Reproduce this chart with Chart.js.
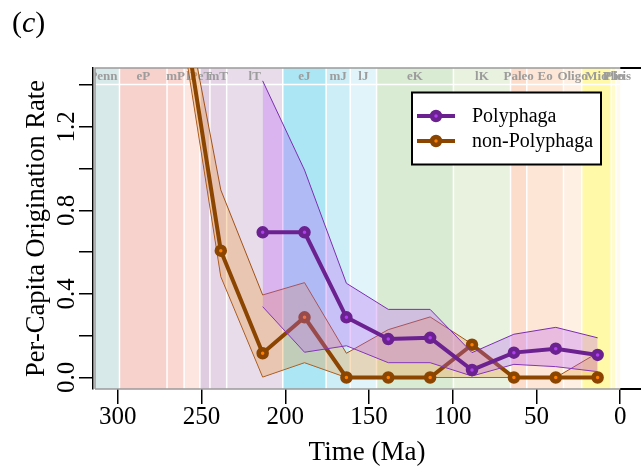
<!DOCTYPE html>
<html lang="en">
<head>
<meta charset="UTF-8">
<title>Per-Capita Origination Rate</title>
<style>
  body { margin: 0; background: #fff; }
  .wrap { position: relative; width: 641px; height: 470px; }
  .panel {
    position: absolute; left: 12px; top: 5px;
    font-family: 'Liberation Serif', serif; font-size: 30px; color: #000;
  }
  canvas { position: absolute; left: 0; top: 0; }
</style>
<script src="https://cdn.jsdelivr.net/npm/chart.js"></script>
</head>
<body>
<div class="wrap">
  <canvas id="chart" width="641" height="470"></canvas>
  <div class="panel">(<i>c</i>)</div>
</div>
<script>
// geological time bins (Ma)
const bandLabels = ['Penn', 'eP', 'mP', 'lP', 'eT', 'mT', 'lT', 'eJ', 'mJ', 'lJ', 'eK', 'lK', 'Paleo', 'Eo', 'Oligo', 'Mio', 'Plio', 'Pleis'];
const bandStart = [318.1, 299, 270.6, 260.4, 251, 245, 235, 201.5, 175.6, 161.2, 145.5, 99.6, 65.5, 55.8, 33.9, 23.03, 5.33, 2.59];
const bandEnd = [299, 270.6, 260.4, 251, 245, 235, 201.5, 175.6, 161.2, 145.5, 99.6, 65.5, 55.8, 33.9, 23.03, 5.33, 2.59, 0];
const bandColors = ['#d8e9e9', '#f7d1cc', '#fbd7d1', '#fde5e0', '#dfcce0', '#e4d4e6', '#e8dcea', '#ace6f4', '#cdeef6', '#e0f4fa',
                    '#daebd4', '#e9f2df', '#fcdccb', '#fde6d5', '#fef0e2', '#fff9a8', '#fffbcc', '#fffaee'];

// Polyphaga
const polyAge = [213.5, 188.5, 163.5, 138.5, 113.5, 88.5, 63.5, 38.5, 13.5];
const polyRate = [0.695, 0.695, 0.288, 0.184, 0.19, 0.036, 0.119, 0.138, 0.108];
const polyUpper = [1.42, 0.993, 0.451, 0.326, 0.326, 0.119, 0.207, 0.24, 0.19];
const polyLower = [0.339, 0.121, 0.152, 0.071, 0.071, 0.007, 0.063, 0.052, 0.028];

// non-Polyphaga
const nonAge = [263.5, 238.5, 213.5, 188.5, 163.5, 138.5, 113.5, 88.5, 63.5, 38.5, 13.5];
const nonRate = [1.88, 0.607, 0.116, 0.288, 0, 0, 0, 0.157, 0, 0, 0];
const nonUpper = [1.95, 0.898, 0.395, 0.454, 0.116, 0.229, 0.29, 0.16, 0, 0, 0.118];
const nonLower = [1.76, 0.483, 0.002, 0.071, 0, 0, 0, 0, 0, 0, 0];

const xTicks = [300, 250, 200, 150, 100, 50, 0];
const yTicks = [0, 0.2, 0.4, 0.6, 0.8, 1.0, 1.2, 1.4];
const yLabelled = [0, 0.4, 0.8, 1.2];

const serif = 'Liberation Serif';
const PURPLE = '#6b2290', PURPLE_PT = '#b13ef2';
const BROWN = '#8b4500', ORANGE_PT = '#ff7f00';

function pts(xs, ys) { return xs.map((x, i) => ({ x: x, y: ys[i] })); }

// time scale bands behind the data
const bandsPlugin = {
  id: 'bands',
  beforeDatasetsDraw(chart) {
    const { ctx, chartArea: a } = chart;
    const xs = chart.scales.x;
    const left = a.left + 2;
    const zeroX = xs.getPixelForValue(0);
    ctx.save();
    ctx.beginPath();
    ctx.rect(left, a.top, a.right - left, a.bottom - a.top);
    ctx.clip();
    bandLabels.forEach((lab, i) => {
      const x1 = xs.getPixelForValue(bandStart[i]);
      const x2 = xs.getPixelForValue(bandEnd[i]);
      ctx.fillStyle = bandColors[i];
      ctx.fillRect(x1, a.top, x2 - x1, a.bottom - a.top);
    });
    ctx.strokeStyle = '#fff';
    ctx.lineWidth = 1.5;
    bandStart.forEach(v => {
      const x = xs.getPixelForValue(v);
      ctx.beginPath(); ctx.moveTo(x, a.top); ctx.lineTo(x, a.bottom); ctx.stroke();
    });
    ctx.beginPath(); ctx.moveTo(left, a.top + 16.5); ctx.lineTo(zeroX, a.top + 16.5); ctx.stroke();
    ctx.font = 'bold 13px "' + serif + '"';
    ctx.fillStyle = '#9c9c9c';
    ctx.textAlign = 'center';
    ctx.textBaseline = 'middle';
    bandLabels.forEach((lab, i) => {
      const xc = (xs.getPixelForValue(bandStart[i]) + xs.getPixelForValue(bandEnd[i])) / 2;
      ctx.fillText(lab, xc, a.top + 9);
    });
    ctx.restore();
    // frame: grey over the bands, black beyond them
    ctx.save();
    ctx.lineWidth = 1.5;
    ctx.strokeStyle = '#9a9a9a';
    ctx.beginPath();
    ctx.moveTo(left, a.bottom); ctx.lineTo(left, a.top); ctx.lineTo(zeroX, a.top);
    ctx.moveTo(left, a.bottom); ctx.lineTo(zeroX, a.bottom);
    ctx.stroke();
    ctx.strokeStyle = '#000';
    ctx.lineWidth = 2;
    ctx.beginPath();
    ctx.moveTo(zeroX, a.top); ctx.lineTo(a.right, a.top);
    ctx.moveTo(zeroX, a.bottom); ctx.lineTo(a.right, a.bottom);
    ctx.stroke();
    ctx.restore();
  }
};

// boxed legend inside the plot
const boxLegend = {
  id: 'boxLegend',
  afterDatasetsDraw(chart) {
    const ctx = chart.ctx;
    const items = chart.data.datasets.slice(0, 2);
    ctx.save();
    ctx.fillStyle = '#fff';
    ctx.fillRect(412, 92.5, 189, 72);
    ctx.strokeStyle = '#000';
    ctx.lineWidth = 2;
    ctx.strokeRect(412, 92.5, 189, 72);
    items.forEach((ds, i) => {
      const y = 116 + i * 25;
      ctx.strokeStyle = ds.borderColor;
      ctx.lineWidth = 4;
      ctx.beginPath(); ctx.moveTo(417, y); ctx.lineTo(455, y); ctx.stroke();
      ctx.fillStyle = ds.pointBackgroundColor;
      ctx.lineWidth = ds.pointBorderWidth;
      ctx.beginPath(); ctx.arc(436, y, ds.pointRadius, 0, Math.PI * 2); ctx.fill(); ctx.stroke();
      ctx.fillStyle = '#000';
      ctx.font = '20px "' + serif + '"';
      ctx.textAlign = 'left';
      ctx.textBaseline = 'middle';
      ctx.fillText(ds.label, 472, y + 1);
    });
    ctx.restore();
  }
};

function mainLine(label, xs, ys, color, ptColor, order) {
  return {
    label: label, data: pts(xs, ys), order: order,
    borderColor: color, borderWidth: 4, tension: 0, fill: false,
    pointRadius: 4, pointBorderWidth: 4.5, pointBackgroundColor: ptColor, pointBorderColor: color
  };
}
function bound(label, xs, ys, color, fillColor, target, order) {
  return {
    label: label, data: pts(xs, ys), order: order,
    borderColor: color, borderWidth: 1, tension: 0, pointRadius: 0,
    fill: target === null ? false : { target: target }, backgroundColor: fillColor
  };
}

const cfg = {
  type: 'line',
  data: {
    datasets: [
      mainLine('Polyphaga', polyAge, polyRate, PURPLE, PURPLE_PT, 0),
      mainLine('non-Polyphaga', nonAge, nonRate, BROWN, ORANGE_PT, 2),
      bound('poly upper', polyAge, polyUpper, '#7a2fb0', 'rgba(187,90,250,0.3)', 3, 1),
      bound('poly lower', polyAge, polyLower, '#7a2fb0', 'rgba(187,90,250,0.3)', null, 1),
      bound('non upper', nonAge, nonUpper, '#a0521a', 'rgba(238,155,64,0.33)', 5, 3),
      bound('non lower', nonAge, nonLower, '#a0521a', 'rgba(238,155,64,0.33)', null, 3)
    ]
  },
  options: {
    responsive: false,
    animation: false,
    devicePixelRatio: 1,
    layout: { autoPadding: false, padding: { top: 68, left: 0, right: 0, bottom: 0 } },
    plugins: { legend: { display: false }, tooltip: { enabled: false } },
    scales: {
      x: {
        type: 'linear', reverse: true, min: -12.4, max: 314.8,
        afterFit: s => { s.height = 81; s.paddingLeft = 0; s.paddingRight = 0; },
        afterBuildTicks: s => { s.ticks = xTicks.map(v => ({ value: v })); },
        grid: { drawOnChartArea: false, tickLength: 15, color: '#000', lineWidth: 1.5 },
        border: { display: false },
        ticks: { autoSkip: false, maxRotation: 0, padding: -2, color: '#000',
                 font: { family: serif, size: 25 }, callback: v => String(v) },
        title: { display: true, text: 'Time (Ma)', color: '#000',
                 font: { family: serif, size: 27 }, padding: { top: 0, bottom: 1 } }
      },
      y: {
        type: 'linear', min: -0.0551, max: 1.4815,
        afterFit: s => { s.width = 93; s.paddingTop = 0; s.paddingBottom = 0; },
        afterBuildTicks: s => { s.ticks = yTicks.map(v => ({ value: v })); },
        grid: { drawOnChartArea: false, tickLength: 14, color: '#000', lineWidth: 1.5 },
        border: { display: true, color: '#000', width: 1.5 },
        ticks: { autoSkip: false, minRotation: 90, maxRotation: 90, crossAlign: 'center', padding: -4,
                 color: '#000', font: { family: serif, size: 25 },
                 callback: v => yLabelled.some(l => Math.abs(l - v) < 1e-6) ? v.toFixed(1) : '' },
        title: { display: true, text: 'Per-Capita Origination Rate', color: '#000',
                 font: { family: serif, size: 26.5 }, padding: { top: 21, bottom: 0 } }
      }
    }
  },
  plugins: [bandsPlugin, boxLegend]
};

new Chart(document.getElementById('chart'), cfg);
</script>
</body>
</html>
